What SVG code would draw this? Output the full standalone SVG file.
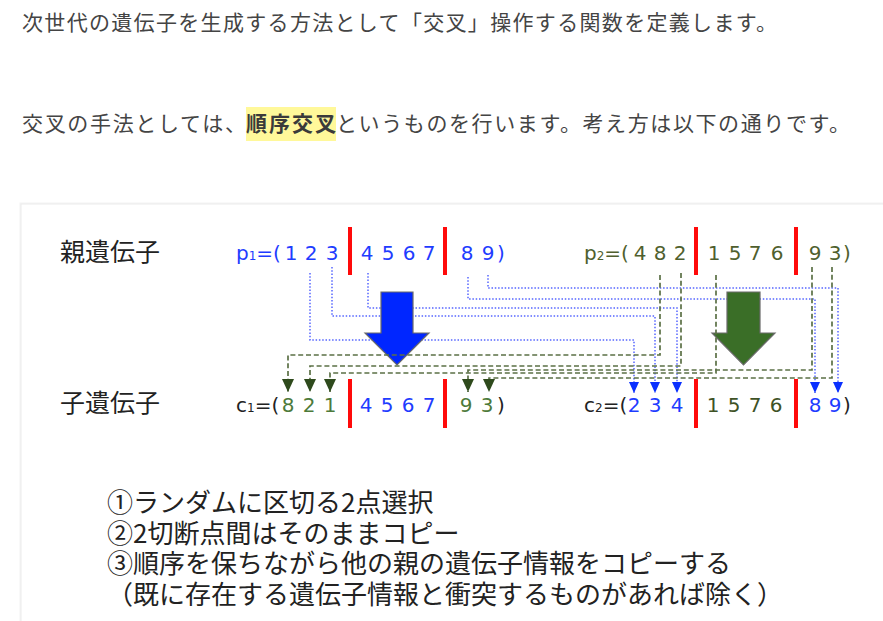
<svg xmlns="http://www.w3.org/2000/svg" width="883" height="621" viewBox="0 0 883 621">
<style>
.jp{font-family:"Noto Sans CJK JP","Noto Sans CJK SC",sans-serif;}
.hd{font-size:21px;fill:#444;}
.lbl{font-size:25px;fill:#222;}
.note{font-size:26px;fill:#222;}
.g{font-family:"DejaVu Sans","Liberation Sans",sans-serif;font-size:20px;}
.bl{fill:#1e3cff;}
.ol{fill:#4f5f2e;}
.gr{fill:#4d7a3a;}
.dk{fill:#3e5226;}
.bk{fill:#222;}
.cut{fill:#ff0a0a;}
.dot{fill:none;stroke:#5566ff;stroke-width:1.5;stroke-dasharray:1.5 1.8;}
.dash{fill:none;stroke:#5b7045;stroke-width:1.7;stroke-dasharray:5 2.8;}
.big{stroke:#6a6a6a;stroke-width:1.2;}
</style>
<defs>
<marker id="ahG" markerUnits="userSpaceOnUse" viewBox="0 0 13 12" refX="13" refY="6" markerWidth="13" markerHeight="12" orient="auto">
<path d="M0,0 L13,6 L0,12 z" fill="#2e4a1c"/>
</marker>
<marker id="ahB" markerUnits="userSpaceOnUse" viewBox="0 0 11 10" refX="11" refY="5" markerWidth="11" markerHeight="10" orient="auto">
<path d="M0,0 L11,5 L0,10 z" fill="#0a30ff"/>
</marker>
</defs>
<rect width="883" height="621" fill="#fff"/>

<g id="header" class="jp hd">
<text x="22" y="29.5" textLength="755" lengthAdjust="spacing">次世代の遺伝子を生成する方法として「交叉」操作する関数を定義します。</text>
<rect x="246" y="107" width="90" height="34" fill="#fff89a"/>
<text x="22" y="130.5" textLength="224" lengthAdjust="spacing">交叉の手法としては、</text>
<text x="246" y="130.5" textLength="90" lengthAdjust="spacing" font-weight="bold" fill="#3a3a3a">順序交叉</text>
<text x="336" y="130.5" textLength="514" lengthAdjust="spacing">というものを行います。考え方は以下の通りです。</text>
</g>

<g id="panel">
<rect x="19.5" y="202.5" width="870" height="430" fill="#f4f4f4"/>
<rect x="21" y="204" width="870" height="430" fill="#fff" stroke="#ebebeb" stroke-width="1"/>
</g>

<g id="label-parent" class="jp lbl"><text x="60" y="260.5" textLength="100" lengthAdjust="spacing">親遺伝子</text></g>
<g id="label-child" class="jp lbl"><text x="60" y="412" textLength="100" lengthAdjust="spacing">子遺伝子</text></g>

<g id="connectors">
<polyline class="dot" points="310,273 310,340 634,340 634,393" marker-end="url(#ahB)"/>
<polyline class="dot" points="332,267 332,316 655,316 655,393" marker-end="url(#ahB)"/>
<polyline class="dot" points="368,273 368,308 677,308 677,393" marker-end="url(#ahB)"/>
<polyline class="dot" points="468,277 468,299 815,299 815,393" marker-end="url(#ahB)"/>
<polyline class="dot" points="488,275 488,288 838,288 838,393" marker-end="url(#ahB)"/>
</g>

<g id="arrow-blue"><polygon class="big" fill="#0026ff" points="381,292 413,292 413,333 429,333 397,365 365,333 381,333"/></g>
<g id="arrow-green"><polygon class="big" fill="#3a6e27" points="727,292 760,292 760,333 775,333 743.5,365 712,333 727,333"/></g>

<g id="connectors-green">
<polyline class="dash" points="660,275 660,355 288,355 288,392" marker-end="url(#ahG)"/>
<polyline class="dash" points="681,273 681,366 310,366 310,392" marker-end="url(#ahG)"/>
<polyline class="dash" points="716,275 716,373 330,373 330,392" marker-end="url(#ahG)"/>
<polyline class="dash" points="812,267 812,370 468,370 468,392" marker-end="url(#ahG)"/>
<polyline class="dash" points="832,267 832,378 489,378 489,392" marker-end="url(#ahG)"/>
</g>

<g id="p1" class="g">
<text x="236" y="260" class="bl">p<tspan font-size="12">1</tspan>=(</text>
<text class="bl" y="260" x="291 311 332 367 388 409 429 467 488 501" text-anchor="middle">123456789)</text>
<rect class="cut" x="348" y="227" width="4" height="48"/>
<rect class="cut" x="443" y="227" width="4" height="48"/>
</g>

<g id="p2" class="g">
<text x="584" y="260" class="ol">p<tspan font-size="12">2</tspan>=(</text>
<text class="ol" y="260" x="640 660 680 714 735 755 777 815 835 847" text-anchor="middle">482157693)</text>
<rect class="cut" x="694" y="227" width="4" height="48"/>
<rect class="cut" x="794" y="227" width="4" height="48"/>
</g>

<g id="c1" class="g">
<text x="236" y="412" class="bk">c<tspan font-size="12">1</tspan>=(</text>
<text class="gr" y="412" x="288 309 330" text-anchor="middle">821</text>
<text class="bl" y="412" x="366 387 408 429" text-anchor="middle">4567</text>
<text class="gr" y="412" x="466 487" text-anchor="middle">93</text>
<text class="bk" y="412" x="501" text-anchor="middle">)</text>
<rect class="cut" x="348" y="379" width="4" height="49"/>
<rect class="cut" x="443" y="379" width="4" height="49"/>
</g>

<g id="c2" class="g">
<text x="584" y="412" class="bk">c<tspan font-size="12">2</tspan>=(</text>
<text class="bl" y="412" x="634 655 677" text-anchor="middle">234</text>
<text class="dk" y="412" x="713 734 755 776" text-anchor="middle">1576</text>
<text class="bl" y="412" x="815 835" text-anchor="middle">89</text>
<text class="bk" y="412" x="847" text-anchor="middle">)</text>
<rect class="cut" x="694" y="379" width="4" height="49"/>
<rect class="cut" x="794" y="379" width="4" height="49"/>
</g>

<g id="notes" class="jp note">
<text x="107" y="512">①ランダムに区切る2点選択<tspan x="107" y="543">②2切断点間はそのままコピー</tspan><tspan x="107" y="573">③順序を保ちながら他の親の遺伝子情報をコピーする</tspan><tspan x="107" y="604">（既に存在する遺伝子情報と衝突するものがあれば除く）</tspan></text>
</g>
</svg>
